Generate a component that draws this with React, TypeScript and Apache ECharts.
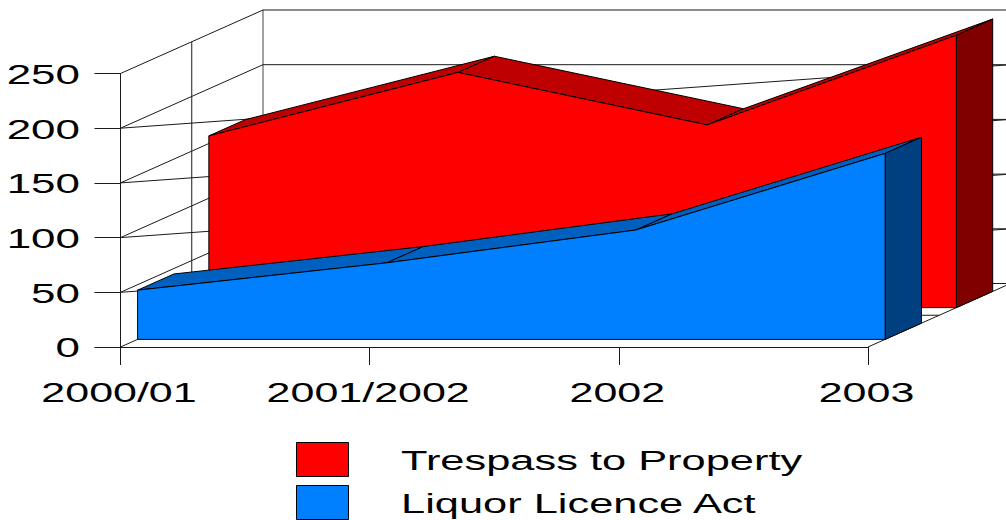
import React, { useEffect, useRef } from "react";
import * as echarts from "echarts";

const categories = ["2000/01", "2001/2002", "2002", "2003"];
const yTicks = [0, 50, 100, 150, 200, 250];
const trespass = [157, 215, 167, 249];
const liquor = [45, 70, 100, 170];
const seriesNames = ["Trespass to Property", "Liquor Licence Act"];

const DEPTH = [142.5, -63.5];
const FONT = "Liberation Sans, Arial, sans-serif";
const INK = "#000";

function at(api: any, cat: number, val: number, d: number) {
  const c = api.coord([cat, val]);
  return [c[0] + DEPTH[0] * d, c[1] + DEPTH[1] * d];
}

function seg(a: number[], b: number[], color = "#1a1a1a") {
  return {
    type: "line",
    shape: { x1: a[0], y1: a[1], x2: b[0], y2: b[1] },
    style: { stroke: color, lineWidth: 1, fill: null },
  };
}

function poly(points: number[][], fill: string) {
  return {
    type: "polygon",
    shape: { points },
    style: { fill, stroke: INK, lineWidth: 1 },
  };
}

function areaSeries(
  name: string,
  values: number[],
  d0: number,
  d1: number,
  front: string,
  top: string,
  side: string,
) {
  return {
    type: "custom",
    name,
    data: values.map((v, i) => [i, v]),
    z: 5,
    renderItem: (params: any, api: any) => {
      const i = params.dataIndex;
      const children: any[] = [];
      const last = values.length - 1;
      if (i < last) {
        children.push(
          poly(
            [
              at(api, i, values[i], d0),
              at(api, i + 1, values[i + 1], d0),
              at(api, i + 1, values[i + 1], d1),
              at(api, i, values[i], d1),
            ],
            top,
          ),
        );
      } else {
        children.push(
          poly(
            [
              at(api, last, 0, d0),
              at(api, last, values[last], d0),
              at(api, last, values[last], d1),
              at(api, last, 0, d1),
            ],
            side,
          ),
        );
        const pts = values.map((v, k) => at(api, k, v, d0));
        children.push(
          poly([at(api, 0, 0, d0), ...pts, at(api, last, 0, d0)], front),
        );
      }
      return { type: "group", children };
    },
  };
}

function stretchedText(text: string, x: number, y: number, size: number, align: string, stretch: number) {
  return {
    type: "text",
    x,
    y,
    scaleX: stretch,
    style: {
      text,
      fontFamily: FONT,
      fontSize: size,
      fill: "#000",
      align,
      verticalAlign: "middle",
    },
  };
}

export default function App() {
  const ref = useRef<HTMLDivElement>(null);
  useEffect(() => {
    const chart = echarts.init(ref.current!, undefined, { renderer: "svg" });
    const lastCat = categories.length - 1;
    const topVal = yTicks[yTicks.length - 1];
    chart.setOption({
      animation: false,
      backgroundColor: "#fff",
      grid: { left: 120.5, top: 73.5, width: 747.5, height: 273.5 },
      xAxis: {
        type: "category",
        data: categories,
        boundaryGap: false,
        axisLine: { show: true, lineStyle: { color: "#1a1a1a", width: 1 } },
        axisTick: { show: true, length: 18, alignWithLabel: true, lineStyle: { color: "#1a1a1a" } },
        axisLabel: { show: false },
        splitLine: { show: false },
      },
      yAxis: {
        type: "value",
        min: 0,
        max: 250,
        interval: 50,
        axisLine: { show: true, lineStyle: { color: "#1a1a1a", width: 1 } },
        axisTick: { show: true, length: 26, lineStyle: { color: "#1a1a1a" } },
        axisLabel: { show: false },
        splitLine: { show: false },
      },
      graphic: [
        { type: "rect", shape: { x: 296.5, y: 442.5, width: 52, height: 34 }, style: { fill: "#ff0000", stroke: INK, lineWidth: 1 } },
        { type: "rect", shape: { x: 296.5, y: 485.5, width: 52, height: 34 }, style: { fill: "#0080ff", stroke: INK, lineWidth: 1 } },
        stretchedText(seriesNames[0], 401, 460, 28, "left", 1.55),
        stretchedText(seriesNames[1], 401, 503, 28, "left", 1.55),
      ],
      series: [
        {
          type: "custom",
          name: "frame",
          z: 1,
          data: yTicks.map((v) => [0, v]),
          renderItem: (params: any, api: any) => {
            const v = yTicks[params.dataIndex];
            const children: any[] = [
              seg(at(api, 0, v, 0), at(api, 0, v, 1)),
              seg(at(api, 0, v, 1), at(api, lastCat, v, 1)),
            ];
            if (v > 0 && v < topVal) {
              children.push(seg(at(api, 0, v, 0), at(api, lastCat, v, 1)));
            }
            if (params.dataIndex === 0) {
              children.push(
                seg(at(api, 0, 0, 1), at(api, 0, topVal, 1), "#444"),
                seg(at(api, 0, 0, 0.5), at(api, 0, topVal, 0.5)),
                seg(at(api, 0, 0, 0.5), at(api, lastCat, 0, 0.5)),
                seg(at(api, lastCat, 0, 0), at(api, lastCat, 0, 1)),
              );
            }
            return { type: "group", children };
          },
        },
        areaSeries(seriesNames[0], trespass, 0.62, 0.875, "#ff0000", "#bf0000", "#800000"),
        areaSeries(seriesNames[1], liquor, 0.12, 0.375, "#0080ff", "#0060bf", "#004080"),
        {
          type: "custom",
          name: "yLabels",
          z: 6,
          data: yTicks.map((v) => [0, v]),
          renderItem: (params: any, api: any) => {
            const v = yTicks[params.dataIndex];
            const c = api.coord([0, v]);
            return stretchedText(String(v), c[0] - 40.5, c[1] + 1, 28, "right", 1.57);
          },
        },
        {
          type: "custom",
          name: "xLabels",
          z: 6,
          data: categories.map((_, i) => [i, 0]),
          renderItem: (params: any, api: any) => {
            const i = params.dataIndex;
            const c = api.coord([i, 0]);
            return stretchedText(categories[i], c[0] - 1.5, c[1] + 45, 28, "center", 1.535);
          },
        },
      ],
    });
    return () => chart.dispose();
  }, []);
  return (
    <div
      ref={ref}
      style={{ position: "absolute", left: 0, top: 0, width: 1006, height: 520 }}
    />
  );
}
